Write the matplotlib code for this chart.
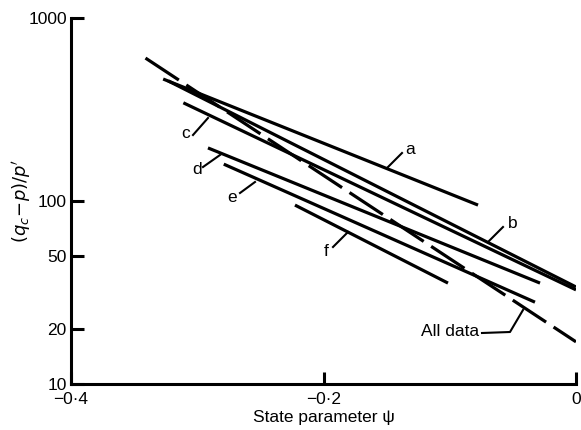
import numpy as np
import matplotlib
matplotlib.use("Agg")
import matplotlib.pyplot as plt

# Fitted relations (qc - p)/p' against state parameter psi, one per sand
line_names = ["a", "b", "c", "d", "e", "f"]
psi_start = [-0.327, -0.323, -0.311, -0.2915, -0.279, -0.2226]
psi_end = [-0.0776, 0.0, 0.0, -0.0285, -0.0325, -0.1014]
q_start = [464, 453, 344, 195, 159, 95]
q_end = [95, 33.9, 32.7, 35.6, 28.0, 35.6]

# Regression through all data (dashed)
all_psi = [-0.341, 0.0]
all_q = [604, 17.0]

y_ticks = [10, 20, 50, 100, 1000]
x_ticks = [-0.4, -0.2, 0.0]
x_tick_labels = ["\u22120\u00b74", "\u22120\u00b72", "0"]

plt.rcParams["font.family"] = ["Liberation Sans", "DejaVu Sans"]

fig = plt.figure(figsize=(5.81, 4.30), dpi=100)
ax = fig.add_axes([71 / 581, 1 - 384 / 430, 505 / 581, 366 / 430])

lw = 2.3
for x0, x1, y0, y1 in zip(psi_start, psi_end, q_start, q_end):
    ax.plot([x0, x1], [y0, y1], color="black", lw=lw, solid_capstyle="butt")

dash_line, = ax.plot(all_psi, all_q, color="black", lw=lw)
dash_line.set_dashes([12.5, 2.8])
dash_line.set_dash_capstyle("butt")

ax.set_yscale("log")
ax.set_xlim(-0.4, 0.0)
ax.set_ylim(10, 1000)

for side in ("top", "right"):
    ax.spines[side].set_visible(False)
for side in ("left", "bottom"):
    ax.spines[side].set_linewidth(2.2)
    ax.spines[side].set_capstyle("projecting")

ax.set_yticks(y_ticks)
ax.set_yticklabels([str(v) for v in y_ticks])
ax.yaxis.set_minor_locator(matplotlib.ticker.NullLocator())
ax.set_xticks(x_ticks)
ax.set_xticklabels(x_tick_labels)
ax.tick_params(axis="both", direction="in", length=9, width=2.2, labelsize=12.5,
               pad=3, colors="black")
ax.tick_params(axis="x", pad=6)

ax.set_xlabel("State parameter \u03c8", fontsize=12.5, labelpad=2)
ax.set_ylabel("$(q_c\\!-\\!p)/p'$", fontsize=13)
ax.yaxis.set_label_coords(-38 / 505, 0.5)


def px2data(px, py):
    x = -0.4 + (px - 71) / 1262.5
    y = 10 ** (1 + (384 - py) / 183)
    return x, y


# Curve labels with short leader strokes
labels = [
    ("a", (410, 150), [(387, 168), (402, 153)]),
    ("b", (513, 224), [(488, 242), (503, 227)]),
    ("c", (186, 134), [(193, 135), (208, 118)]),
    ("d", (197, 170), [(203, 167), (220, 155)]),
    ("e", (232, 197), [(240, 193), (255, 182)]),
    ("f", (326, 251), [(333, 247), (348, 232)]),
    ("All data", (450, 332), [(482, 333), (510, 332), (523, 310)]),
]
for text, pos, leader in labels:
    tx, ty = px2data(*pos)
    ax.text(tx, ty, text, fontsize=12.5, ha="center", va="center")
    pts = [px2data(*p) for p in leader]
    ax.plot([p[0] for p in pts], [p[1] for p in pts], color="black", lw=1.5)

fig.savefig("out.png", dpi=100)
